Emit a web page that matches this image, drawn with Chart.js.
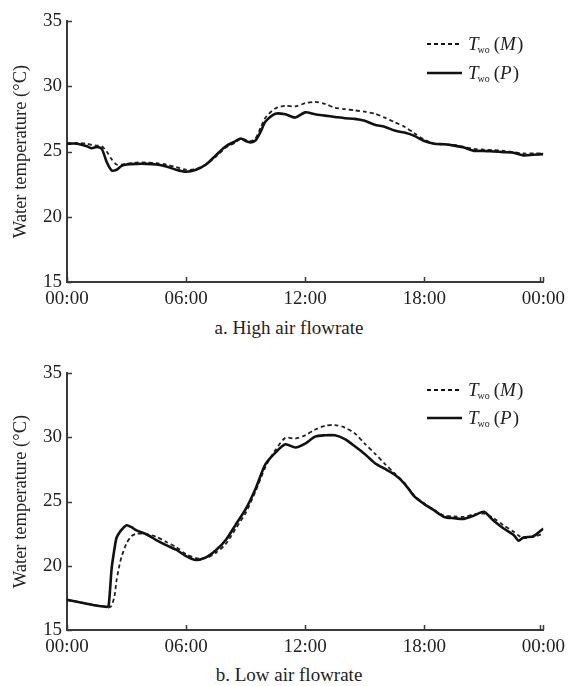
<!DOCTYPE html>
<html lang="en">
<head>
<meta charset="UTF-8">
<title>Water temperature</title>
<script src="https://cdn.jsdelivr.net/npm/chart.js"></script>
<style>
    body {
        margin: 0;
        background: #fff;
        width: 571px;
        height: 686px;
        position: relative;
        font-family: "Liberation Serif", "Times New Roman", serif;
        color: #222;
    }
    .panel {
        position: absolute;
        left: 0;
    }
    .caption {
        position: absolute;
        left: 0;
        width: 578px;
        text-align: center;
        font-size: 19px;
        line-height: 22px;
    }
</style>
</head>
<body>
<div class="panel" style="top:0"><canvas id="chartHigh" width="571" height="312"></canvas></div>
<div class="caption" style="top:317px">a. High air flowrate</div>
<div class="panel" style="top:352px"><canvas id="chartLow" width="571" height="308"></canvas></div>
<div class="caption" style="top:664px">b. Low air flowrate</div>

<script>
    // time of day in hours
    const hoursHigh = [0, 0.5, 1, 1.25, 1.5, 1.75, 2, 2.25, 2.5, 2.75, 3, 3.5, 4, 4.5, 5, 5.5, 6, 6.5, 7, 7.5,
        8, 8.5, 8.75, 9, 9.25, 9.5, 9.75, 10, 10.5, 11, 11.5, 12, 12.5, 13, 13.5, 14, 14.5, 15, 15.5, 16,
        16.5, 17, 17.5, 18, 18.5, 19, 19.5, 20, 20.5, 21, 21.5, 22, 22.5, 23, 23.5, 24];
    const twoMHigh = [25.6, 25.65, 25.6, 25.5, 25.45, 25.4, 25.0, 24.4, 24.0, 24.0, 24.05, 24.15, 24.15, 24.1, 24.0, 23.8, 23.6, 23.65, 24.0, 24.6,
        25.3, 25.7, 26.0, 25.9, 25.8, 26.0, 26.8, 27.6, 28.3, 28.5, 28.45, 28.7, 28.8, 28.65, 28.35, 28.25, 28.15, 28.05, 27.9, 27.6,
        27.25, 26.9, 26.4, 25.9, 25.6, 25.55, 25.5, 25.35, 25.2, 25.15, 25.1, 25.05, 24.95, 24.85, 24.85, 24.85];
    const twoPHigh = [25.6, 25.6, 25.4, 25.25, 25.35, 25.2, 24.2, 23.55, 23.6, 23.9, 24.0, 24.05, 24.05, 24.0, 23.85, 23.6, 23.45, 23.6, 24.0, 24.7,
        25.4, 25.8, 26.0, 25.8, 25.7, 25.85, 26.5, 27.3, 27.9, 27.85, 27.6, 28.0, 27.85, 27.75, 27.65, 27.55, 27.5, 27.35, 27.05, 26.9,
        26.6, 26.45, 26.2, 25.8, 25.6, 25.55, 25.45, 25.3, 25.05, 25.05, 25.0, 24.95, 24.9, 24.7, 24.75, 24.8];

    const hoursLow = [0, 0.5, 1, 1.5, 2, 2.1, 2.25, 2.4, 2.5, 2.65, 2.75, 3, 3.25, 3.5, 4, 4.5, 5, 5.5, 6, 6.5,
        7, 7.5, 8, 8.5, 9, 9.5, 10, 10.5, 11, 11.5, 12, 12.5, 13, 13.5, 14, 14.5, 15, 15.5, 16, 16.5,
        17, 17.5, 18, 18.5, 19, 19.5, 20, 20.5, 21, 21.5, 22, 22.5, 22.75, 23, 23.5, 24];
    const twoMLow = [17.35, 17.2, 17.05, 16.9, 16.8, 16.75, 16.9, 17.7, 18.9, 20.1, 20.7, 21.75, 22.3, 22.5, 22.45, 22.25, 21.85, 21.45, 20.9, 20.6,
        20.6, 21.0, 21.7, 22.9, 24.1, 25.8, 27.7, 29.0, 29.95, 29.9, 30.15, 30.6, 30.9, 30.95, 30.75, 30.3, 29.5, 28.75, 27.95, 27.2,
        26.45, 25.45, 24.85, 24.35, 23.9, 23.85, 23.8, 24.0, 24.05, 23.7, 23.15, 22.65, 22.35, 22.15, 22.25, 22.5];
    const twoPLow = [17.35, 17.2, 17.05, 16.9, 16.8, 16.9, 19.8, 21.4, 22.2, 22.6, 22.8, 23.15, 23.0, 22.75, 22.45, 22.0, 21.6, 21.25, 20.75, 20.45,
        20.65, 21.2, 22.0, 23.2, 24.4, 26.0, 27.9, 28.8, 29.45, 29.2, 29.5, 30.05, 30.15, 30.15, 29.85, 29.3, 28.7, 28.0, 27.55, 27.1,
        26.4, 25.4, 24.8, 24.3, 23.8, 23.7, 23.65, 23.9, 24.2, 23.5, 22.9, 22.4, 21.95, 22.2, 22.3, 22.9];

    const timeLabels = ['00:00', '06:00', '12:00', '18:00', '00:00'];
    const seriesNames = ['M', 'P'];

    const serif = "'Liberation Serif', serif";
    const axisColor = '#3a3a3a';
    Chart.defaults.font.family = serif;
    Chart.defaults.color = '#222';

    // inward tick marks + the T_wo legend
    const decorPlugin = {
        id: 'decor',
        afterDraw(chart, args, opts) {
            const ctx = chart.ctx;
            const xs = chart.scales.x, ys = chart.scales.y;
            const area = chart.chartArea;
            ctx.save();
            ctx.strokeStyle = axisColor;
            ctx.lineWidth = 1.5;
            ctx.beginPath();
            ys.ticks.forEach(t => {
                const y = Math.round(ys.getPixelForValue(t.value)) + 0.5;
                ctx.moveTo(area.left, y);
                ctx.lineTo(area.left + 5, y);
            });
            xs.ticks.forEach(t => {
                const x = Math.round(xs.getPixelForValue(t.value)) + 0.5;
                ctx.moveTo(x, area.bottom);
                ctx.lineTo(x, area.bottom - 5);
            });
            const xe = Math.round(xs.getPixelForValue(24)) - 2.5;
            ctx.moveTo(xe, area.bottom);
            ctx.lineTo(xe, area.bottom - 5);
            ctx.stroke();

            // legend
            const lx = area.left + opts.x;
            seriesNames.forEach((name, i) => {
                const ly = area.top + opts.y[i];
                ctx.beginPath();
                ctx.strokeStyle = '#111';
                if (i === 0) {
                    ctx.lineWidth = 1.8;
                    ctx.setLineDash([4, 3]);
                } else {
                    ctx.lineWidth = 2.6;
                    ctx.setLineDash([]);
                }
                ctx.moveTo(lx, ly);
                ctx.lineTo(lx + 35, ly);
                ctx.stroke();
                ctx.setLineDash([]);

                ctx.fillStyle = '#222';
                ctx.textBaseline = 'alphabetic';
                let tx = lx + 41;
                const base = ly + 6;
                ctx.font = 'italic 19px ' + serif;
                ctx.fillText('T', tx, base);
                tx += ctx.measureText('T').width - 1;
                ctx.font = '10px ' + serif;
                ctx.fillText('wo', tx, base + 3);
                tx += ctx.measureText('wo').width + 4;
                ctx.font = '19px ' + serif;
                ctx.fillText('(', tx, base);
                tx += ctx.measureText('(').width;
                ctx.font = 'italic 19px ' + serif;
                ctx.fillText(name, tx, base);
                tx += ctx.measureText(name).width + 1;
                ctx.font = '19px ' + serif;
                ctx.fillText(')', tx, base);
            });
            ctx.restore();
        }
    };

    function makeChart(id, hours, mVals, pVals, legendY) {
        const ctx = document.getElementById(id).getContext('2d');
        return new Chart(ctx, {
            type: 'line',
            data: {
                datasets: [{
                    label: 'Two (P)',
                    data: hours.map((h, i) => ({ x: h, y: pVals[i] })),
                    borderColor: '#111',
                    borderWidth: 2.6,
                    pointRadius: 0,
                    tension: 0.25
                }, {
                    label: 'Two (M)',
                    data: hours.map((h, i) => ({ x: h, y: mVals[i] })),
                    borderColor: '#222',
                    borderWidth: 1.8,
                    borderDash: [4, 3],
                    pointRadius: 0,
                    tension: 0.25
                }]
            },
            options: {
                responsive: false,
                animation: false,
                layout: { padding: { left: 0, right: 24, top: 21, bottom: 0 } },
                plugins: {
                    legend: { display: false },
                    tooltip: { enabled: false },
                    decor: { x: 360, y: legendY }
                },
                scales: {
                    x: {
                        type: 'linear',
                        min: 0,
                        max: 24,
                        grid: { display: false, drawTicks: false },
                        border: { display: true, color: axisColor, width: 2 },
                        ticks: {
                            stepSize: 6,
                            autoSkip: false,
                            maxRotation: 0,
                            padding: 6,
                            color: '#222',
                            font: { family: serif, size: 19 },
                            callback: (v) => timeLabels[Math.round(v / 6)]
                        },
                        afterFit: (s) => { s.height = 30; }
                    },
                    y: {
                        min: 15,
                        max: 35,
                        grid: { display: false, drawTicks: false },
                        border: { display: true, color: axisColor, width: 2 },
                        ticks: {
                            stepSize: 5,
                            padding: 5,
                            color: '#222',
                            font: { family: serif, size: 19 }
                        },
                        title: {
                            display: true,
                            text: 'Water temperature (°C)',
                            color: '#222',
                            font: { family: serif, size: 18.5 },
                            padding: { top: 10, bottom: 0 }
                        },
                        afterFit: (s) => { s.width = 67; }
                    }
                }
            },
            plugins: [decorPlugin]
        });
    }

    // make sure the serif face is ready before the canvas text is drawn
    Promise.all([
        document.fonts.load("19px 'Liberation Serif'"),
        document.fonts.load("italic 19px 'Liberation Serif'")
    ]).catch(() => {}).then(() => {
        makeChart('chartHigh', hoursHigh, twoMHigh, twoPHigh, [23, 52]);
        makeChart('chartLow', hoursLow, twoMLow, twoPLow, [17, 45]);
    });
</script>
</body>
</html>
